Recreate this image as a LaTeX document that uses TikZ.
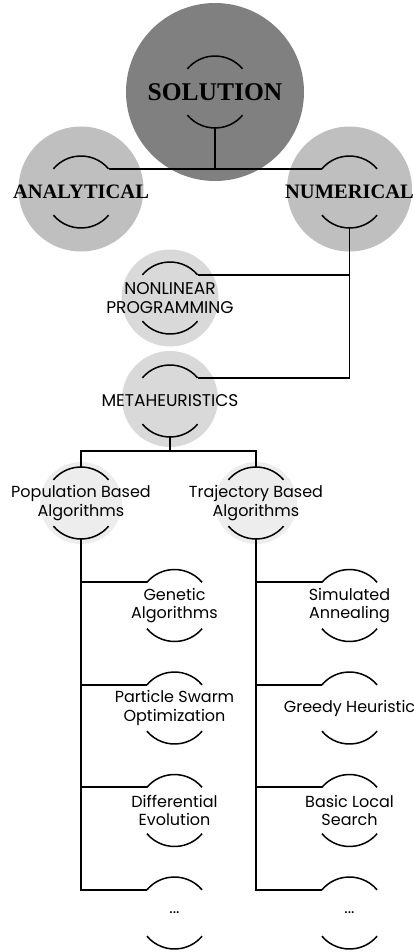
\documentclass[tikz,border=0pt]{standalone}
\usepackage{fontspec}
\newfontfamily\gothic{Poppins}
\newfontfamily\headserif{Liberation Serif}
\usetikzlibrary{backgrounds}

\definecolor{shadeA}{HTML}{808080}
\definecolor{shadeB}{HTML}{BFBFBF}
\definecolor{shadeC}{HTML}{D9D9D9}
\definecolor{shadeD}{HTML}{EDEDED}

\tikzset{
  ring/.style={circle, minimum size=72pt, inner sep=0pt, outer sep=0pt},
  head/.style={font=\headserif\bfseries\fontsize{20.5}{22}\selectfont},
  bighead/.style={font=\headserif\bfseries\fontsize{25.5}{27}\selectfont},
  sans/.style={align=center, inner sep=0pt, font=\gothic\fontsize{16}{18.5}\selectfont},
  capsans/.style={sans, font=\gothic\fontsize{17}{19}\selectfont},
  wire/.style={line width=1.8pt},
  rim/.style={line width=1.5pt},
}

\begin{document}
\begin{tikzpicture}[x=1pt, y=1pt]
    \useasboundingbox (0,0) rectangle (414,-952);

    % top levels
    \node[ring, label={[bighead]center:SOLUTION}] (sol) at (215,-92) {};
    \node[ring, label={[head]center:ANALYTICAL}] (ana) at (81,-192) {};
    \node[ring, label={[head]center:NUMERICAL}] (num) at (349.5,-192) {};
    \node[ring, label={[capsans]center:NONLINEAR\\PROGRAMMING}] (nlp) at (170,-298) {};
    \node[ring, label={[capsans]center:METAHEURISTICS}] (meta) at (170,-401) {};
    \node[ring, label={[sans]center:Population Based\\Algorithms}] (pop) at (81,-503) {};
    \node[ring, label={[sans]center:Trajectory Based\\Algorithms}] (traj) at (256,-503) {};

    % population based
    \node[ring, label={[sans]center:Genetic\\Algorithms}] (ga) at (174.5,-605.5) {};
    \node[ring, label={[sans]center:Particle Swarm\\Optimization}] (pso) at (174.5,-708) {};
    \node[ring, label={[sans]center:Differential\\Evolution}] (de) at (174.5,-810.5) {};
    \node[ring, label={[sans]center:...}] (pmore) at (174.5,-913) {};

    % trajectory based
    \node[ring, label={[sans]center:Simulated\\Annealing}] (sa) at (349.5,-605.5) {};
    \node[ring, label={[sans]center:Greedy Heuristic}] (gh) at (349.5,-708) {};
    \node[ring, label={[sans]center:Basic Local\\Search}] (bls) at (349.5,-810.5) {};
    \node[ring, label={[sans]center:...}] (tmore) at (349.5,-913) {};

    \coordinate (split) at (170,-451);

    \begin{scope}[on background layer]
        \fill[shadeA] (sol) circle[radius=89pt];
        \fill[shadeB] (ana) ++(0,3) circle[radius=62.5pt];
        \fill[shadeB] (num) ++(0,3) circle[radius=62.5pt];
        \fill[shadeC] (nlp) circle[radius=48.5pt];
        \fill[shadeC] (meta) ++(0,2) circle[radius=48pt];
        \fill[shadeD] (pop) circle[radius=41pt];
        \fill[shadeD] (traj) circle[radius=41pt];
    \end{scope}

    % the two arcs round every label
    \foreach \n in {sol,ana,num,nlp,meta,pop,traj,ga,pso,de,pmore,sa,gh,bls,tmore}
        \draw[rim] (\n.40) arc[start angle=40, end angle=140, radius=36pt]
                   (\n.220) arc[start angle=220, end angle=320, radius=36pt];

    \draw[wire] (sol.south) -- (sol.south |- ana.40);
    \draw[wire] (ana.40) -- (num.140);
    \draw[wire] (num.south) |- (meta.40);
    \draw[wire] (nlp.40) -- (nlp.40 -| num.south);
    \draw[wire] (meta.south) -- (split);
    \draw[wire] (pop.north) |- (split) -| (traj.north);

    \draw[wire] (pop.south) |- (pmore.140);
    \foreach \n in {ga,pso,de}
        \draw[wire] (\n.140) -- (\n.140 -| pop.south);
    \draw[wire] (traj.south) |- (tmore.140);
    \foreach \n in {sa,gh,bls}
        \draw[wire] (\n.140) -- (\n.140 -| traj.south);
\end{tikzpicture}
\end{document}
